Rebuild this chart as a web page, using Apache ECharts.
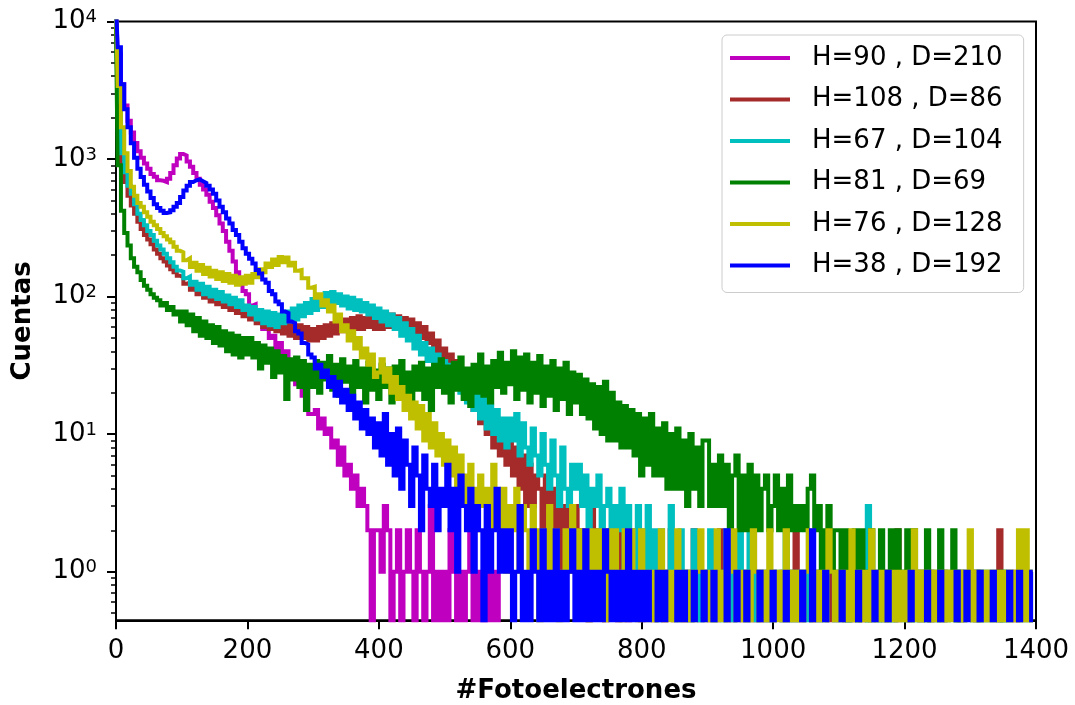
<!DOCTYPE html>
<html><head><meta charset="utf-8">
<script src="https://cdn.jsdelivr.net/npm/echarts@6/dist/echarts.min.js"></script>
<style>html,body{margin:0;padding:0;background:#fff}#c{width:1075px;height:705px}</style>
</head><body><div id="c"></div>
<script>
// ---- data (histogram counts, bins of 5 photoelectrons starting at 0) ----
const binWidth = 5;
const seriesNames = ['H=90 , D=210', 'H=108 , D=86', 'H=67 , D=104', 'H=81 , D=69', 'H=76 , D=128', 'H=38 , D=192'];
const seriesColors = ['#bf00bf', '#a52a2a', '#00bfbf', '#008000', '#bfbf00', '#0000ff'];
const xTickValues = [0, 200, 400, 600, 800, 1000, 1200, 1400];
const yMajorExponents = [0, 1, 2, 3, 4];
const yMinorTickValues = [0.5,0.6,0.7,0.8,0.9, 2,3,4,5,6,7,8,9, 20,30,40,50,60,70,80,90, 200,300,400,500,600,700,800,900, 2000,3000,4000,5000,6000,7000,8000,9000];

const magenta = [
14000,5800,3500,2450,1900,1560,1310,1140,1020,930,850,780,745,700,695,680,720,790,900,1010,
1090,1060,960,880,790,720,650,600,550,490,440,390,340,300,250,215,180,150,125,110,
104,86,88,72,74,58,60,50,52,40,46,36,40,28,34,23,29,19,23,14,
14,15,11,13,10,11,8,9,6,8,5,6,4,5,3,4,3,2,0,2,
2,1,3,2,0,1,2,0,1,2,1,0,2,1,0,1,3,0,1,0,
1,0,2,1,0,1,0,1,2,0,1,0,1,0,1,0,1,0,0,0,
0,0,0,0,0,0,0,0,0,0,0,0,0,0,0,0,0,0,0,0,
0,0,0,0,0,0,0,0,0,0,0,0,0,0,0,0,0,0,0,0,
0,0,0,0,0,0,0,0,0,0,0,0,0,0,0,0,0,0,0,0,
0,0,0,0,0,0,0,0,0,0,0,0,0,0,0,0,0,0,0,0,
0,0,0,0,0,0,0,0,0,0,0,0,0,0,0,0,0,0,0,0,
0,0,0,0,0,0,0,0,0,0,0,0,0,0,0,0,0,0,0,0,
0,0,0,0,0,0,0,0,0,0,0,0,0,0,0,0,0,0,0,0,
0,0,0,0,0,0,0,0,0,0,0,0,0,0,0,0,0,0,0,0];

const brown = [
11000,2300,950,680,540,460,400,350,310,280,260,240,220,205,190,180,168,158,150,142,
138,124,126,112,120,104,114,98,108,92,102,88,98,84,94,80,90,76,86,72,
82,68,78,64,74,60,72,58,70,56,68,54,66,52,64,50,62,50,60,48,
58,48,60,50,62,52,64,54,66,56,68,56,70,58,72,58,70,60,72,58,
70,58,72,60,74,62,72,58,70,56,68,54,64,50,60,46,54,40,48,36,
42,32,38,28,34,24,28,19,24,15,19,12,16,10,13,8,11,7,10,6,
9,5,8,4,7,3,6,3,5,4,2,5,3,4,2,3,1,3,2,1,
3,2,1,2,0,3,1,2,1,0,2,1,1,0,2,1,0,1,2,1,
0,1,2,1,0,1,1,0,1,2,0,1,1,0,1,0,2,1,0,1,
1,0,1,0,2,1,0,1,0,1,1,0,1,0,2,0,1,0,1,0,
1,0,0,1,0,1,0,2,0,1,0,0,1,0,1,0,0,1,0,1,
0,0,1,0,1,0,0,1,0,0,1,0,0,0,1,0,0,0,2,0,
0,1,0,0,0,1,0,0,1,0,0,0,1,0,0,0,0,1,0,0,
0,0,1,0,0,0,0,0,0,2,0,0,0,0,1,0,0,0,0,0];

const cyan = [
12000,2600,1100,800,640,560,470,400,360,330,300,280,255,235,220,205,190,178,165,155,
152,136,140,122,128,112,124,104,118,100,112,96,108,92,102,88,98,84,94,80,
86,74,84,68,80,64,78,62,76,60,74,64,78,66,82,68,86,72,90,76,
96,80,100,84,106,88,108,90,104,86,100,82,98,80,94,78,90,74,86,70,
82,66,78,62,74,58,70,52,64,48,58,42,52,38,46,34,42,30,38,26,
34,26,32,22,28,20,26,17,23,15,20,13,18,11,16,10,15,9,13,8,
13,9,14,7,12,8,6,11,7,5,10,6,4,9,5,3,8,4,3,6,
4,6,3,5,2,4,3,5,2,3,4,1,3,2,4,1,3,2,1,3,
2,1,3,1,2,0,2,1,1,3,1,0,2,1,1,0,2,1,0,1,
1,2,0,1,1,0,2,1,0,1,2,1,0,3,1,0,1,1,0,1,
0,1,1,0,2,0,1,0,1,1,0,1,0,0,1,0,1,0,0,1,
0,1,0,1,0,0,1,0,0,3,1,0,0,1,0,0,1,0,0,0,
1,0,0,1,0,0,0,1,0,0,0,1,0,0,0,0,1,0,0,0,
0,0,0,1,0,0,0,0,0,0,1,0,0,0,0,0,0,0,0,0];

const green = [
9000,900,420,290,235,190,165,150,132,120,112,104,98,94,86,90,80,84,74,78,
66,78,62,74,56,70,52,66,50,62,46,60,44,56,40,54,38,52,36,50,
38,50,36,46,30,44,33,42,26,40,28,37,18,35,25,36,22,34,15,32,
22,34,20,33,25,37,21,32,19,35,24,31,18,34,22,30,17,33,21,29,
18,32,22,30,17,31,21,34,19,28,16,31,21,33,18,30,15,32,22,35,
20,31,17,33,21,36,18,30,16,32,20,38,19,31,17,34,22,39,20,33,
23,40,18,36,21,38,17,33,20,37,16,31,19,34,15,30,18,33,14,28,
17,27,14,25,13,23,11,22,10,24,9,20,9,17,8,16,8,15,7,14,
5,13,6,14,5,11,5,12,4,10,4,11,4,9,3,10,4,8,3,9,
9,3,6,3,7,3,6,2,5,7,2,5,2,6,2,5,2,4,5,2,
3,5,2,4,2,5,2,3,2,3,2,4,5,2,3,1,2,3,1,2,
2,1,2,0,1,2,0,2,1,0,2,1,0,2,1,0,2,0,2,1,
1,2,0,2,1,0,1,2,0,1,0,2,1,0,1,2,0,1,0,1,
1,0,1,0,1,0,1,0,1,0,1,0,1,0,0,1,0,1,0,1];

const yellow = [
14000,3400,1700,1100,820,630,540,480,450,410,380,350,330,310,290,275,260,248,230,215,
210,184,190,164,176,154,170,146,162,140,154,134,150,130,146,126,142,122,138,124,
142,126,146,138,158,150,174,164,186,170,194,178,192,168,176,154,156,136,136,116,
118,98,104,86,94,78,86,66,74,56,62,48,56,42,50,36,42,32,38,26,
28,35,24,30,20,26,18,22,15,19,13,17,11,16,9,14,8,12,7,10,
6,9,5,8,4,7,5,3,6,4,2,5,3,4,2,6,3,2,4,1,
3,2,4,1,3,2,1,3,2,0,2,1,3,1,2,0,1,2,1,3,
1,2,1,2,0,2,1,2,1,0,2,1,2,1,0,2,1,2,1,0,
2,1,0,1,0,1,2,0,1,0,1,2,0,1,0,1,0,1,2,1,
0,1,0,2,0,1,0,1,2,0,1,0,1,0,2,1,0,1,0,2,
1,0,1,0,2,0,1,0,1,0,1,2,0,1,0,1,0,2,1,0,
1,0,1,0,2,0,1,0,1,0,2,1,0,1,0,1,0,1,0,1,
0,1,0,2,0,1,0,1,0,1,0,1,0,1,0,1,0,1,0,1,
2,0,1,0,1,0,1,0,1,0,1,0,1,0,1,2,0,2,0,1];

const blue = [
14000,6500,3500,2300,1700,1300,1020,850,740,650,580,520,470,440,420,405,410,425,450,480,
530,590,640,680,700,710,690,670,640,600,560,500,450,410,370,340,305,280,250,225,
205,188,174,156,147,133,126,110,104,92,88,78,76,66,64,56,54,46,45,38,
36,30,32,26,29,22,26,19,24,17,21,15,19,13,17,11,15,10,13,8,
12,7,14,6,10,5,11,4,9,6,3,8,5,2,7,4,3,6,2,4,
3,6,2,4,1,5,3,2,4,1,3,2,0,3,1,2,4,1,2,1,
2,0,1,3,0,1,0,2,1,0,2,0,1,0,2,0,1,0,1,2,
0,1,0,2,0,1,0,1,0,2,1,0,1,0,1,0,2,0,1,0,
1,0,1,0,0,1,0,1,0,0,0,1,0,1,0,0,1,0,0,1,
0,0,1,0,0,0,2,0,0,1,0,0,1,0,0,0,1,0,0,0,
1,0,0,0,1,0,0,0,0,1,0,0,2,0,0,0,1,0,0,0,
0,1,0,0,0,0,1,0,0,0,0,1,0,0,0,1,0,0,0,0,
0,0,1,0,0,0,0,1,0,0,0,1,0,0,0,0,1,0,0,1,
0,0,0,1,0,0,0,1,0,0,0,0,1,0,0,1,0,0,0,1];

const seriesValues = [magenta, brown, cyan, green, yellow, blue];

// ---- chart ----
const F = 'DejaVu Sans';
const yMin = 0.443, yMax = 10000;
const zeroDrawValue = 0.01; // zero counts drop below the visible log range, as in the source plot

const chart = echarts.init(document.getElementById('c'), null, {renderer: 'canvas'});
const series = seriesValues.map((vals, k) => ({
  type: 'line',
  name: seriesNames[k],
  data: vals.map((v, i) => [i * binWidth, v === 0 ? zeroDrawValue : v]),
  step: 'middle',
  showSymbol: false,
  symbol: 'none',
  clip: true,
  lineStyle: {color: seriesColors[k], width: 4, join: 'miter'},
  itemStyle: {color: seriesColors[k]},
  emphasis: {disabled: true},
  z: 2 + k
}));

const tickLine = {color: '#000', width: 2};
chart.setOption({
  animation: false,
  backgroundColor: '#fff',
  grid: {left: 116, right: 39, top: 21.5, bottom: 84.7, show: true, borderColor: '#000', borderWidth: 2, backgroundColor: 'transparent', outerBoundsMode: 'none', containLabel: false},
  legend: {
    orient: 'vertical', left: 722, top: 35,
    data: seriesNames, icon: 'rect', itemWidth: 60, itemHeight: 4, itemGap: 15.5,
    padding: [10, 21, 14, 8],
    backgroundColor: 'rgba(255,255,255,0.8)', borderColor: '#cccccc', borderWidth: 1, borderRadius: 5,
    textStyle: {fontSize: 26, lineHeight: 26, color: '#000', fontFamily: F, padding: [0, 0, 0, 17]},
    selectedMode: false
  },
  xAxis: {
    type: 'value', min: 0, max: 1400, interval: 200,
    axisLine: {show: true, onZero: false, lineStyle: tickLine},
    axisTick: {show: true, length: 9, lineStyle: tickLine},
    axisLabel: {fontSize: 26, color: '#000', fontFamily: F, margin: 18, showMinLabel: true, showMaxLabel: true, formatter: v => String(v)},
    splitLine: {show: false},
    name: '#Fotoelectrones', nameLocation: 'middle', nameGap: 58,
    nameTextStyle: {fontSize: 26, fontWeight: 'bold', color: '#000', fontFamily: F}
  },
  yAxis: [{
    type: 'log', logBase: 10, min: yMin, max: yMax, position: 'left',
    axisLine: {show: true, lineStyle: tickLine},
    axisTick: {show: false}, axisLabel: {show: false},
    splitLine: {show: false}, minorTick: {show: false}, minorSplitLine: {show: false},
    name: 'Cuentas', nameLocation: 'middle', nameGap: 80,
    nameTextStyle: {fontSize: 26, fontWeight: 'bold', color: '#000', fontFamily: F}
  }, {
    type: 'value', min: Math.log10(yMin), max: Math.log10(yMax), position: 'left',
    axisLine: {show: false},
    axisTick: {show: true, length: 9, lineStyle: tickLine, customValues: yMajorExponents},
    axisLabel: {
      show: true, customValues: yMajorExponents, margin: 19,
      formatter: v => '{b|10}{s|' + Math.round(v) + '}',
      rich: {
        b: {fontSize: 26, color: '#000', fontFamily: F},
        s: {fontSize: 18, color: '#000', fontFamily: F, verticalAlign: 'top'}
      }
    },
    splitLine: {show: false}
  }, {
    type: 'value', min: Math.log10(yMin), max: Math.log10(yMax), position: 'left',
    axisLine: {show: false},
    axisTick: {show: true, length: 5, lineStyle: {color: '#000', width: 1.5}, customValues: yMinorTickValues.map(v => Math.log10(v))},
    axisLabel: {show: false},
    splitLine: {show: false}
  }],
  series: series
});
</script>
</body></html>
